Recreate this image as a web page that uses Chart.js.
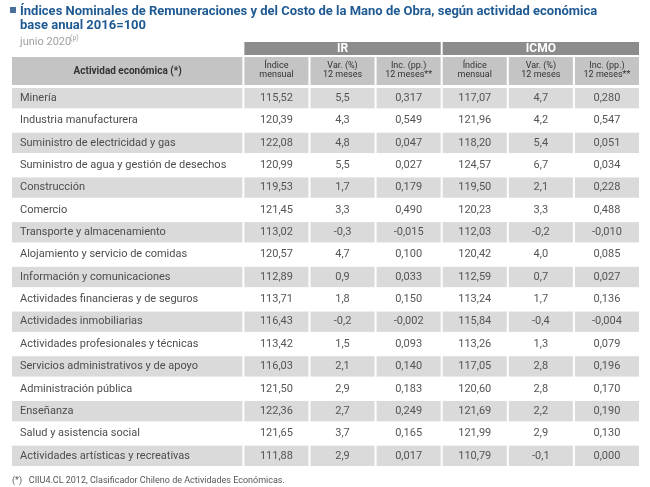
<!DOCTYPE html>
<html>
<head>
<meta charset="utf-8">
<script src="https://cdn.jsdelivr.net/npm/chart.js@4/dist/chart.umd.min.js"></script>
<style>
  body { margin: 0; background: #fff; }
  #wrap { position: relative; width: 650px; height: 487px; }
</style>
</head>
<body>
<div id="wrap"><canvas id="tableChart" width="650" height="487"></canvas></div>
<script>
const activities = [
  "Minería", "Industria manufacturera", "Suministro de electricidad y gas",
  "Suministro de agua y gestión de desechos", "Construcción", "Comercio",
  "Transporte y almacenamiento", "Alojamiento y servicio de comidas",
  "Información y comunicaciones", "Actividades financieras y de seguros",
  "Actividades inmobiliarias", "Actividades profesionales y técnicas",
  "Servicios administrativos y de apoyo", "Administración pública", "Enseñanza",
  "Salud y asistencia social", "Actividades artísticas y recreativas"
];
const irIndice = ["115,52","120,39","122,08","120,99","119,53","121,45","113,02","120,57","112,89","113,71","116,43","113,42","116,03","121,50","122,36","121,65","111,88"];
const irVar = ["5,5","4,3","4,8","5,5","1,7","3,3","-0,3","4,7","0,9","1,8","-0,2","1,5","2,1","2,9","2,7","3,7","2,9"];
const irInc = ["0,317","0,549","0,047","0,027","0,179","0,490","-0,015","0,100","0,033","0,150","-0,002","0,093","0,140","0,183","0,249","0,165","0,017"];
const icmoIndice = ["117,07","121,96","118,20","124,57","119,50","120,23","112,03","120,42","112,59","113,24","115,84","113,26","117,05","120,60","121,69","121,99","110,79"];
const icmoVar = ["4,7","4,2","5,4","6,7","2,1","3,3","-0,2","4,0","0,7","1,7","-0,4","1,3","2,8","2,8","2,2","2,9","-0,1"];
const icmoInc = ["0,280","0,547","0,051","0,034","0,228","0,488","-0,010","0,085","0,027","0,136","-0,004","0,079","0,196","0,170","0,190","0,130","0,000"];
const columnHeads = [["Índice","mensual"],["Var. (%)","12 meses"],["Inc. (pp.)","12 meses**"],["Índice","mensual"],["Var. (%)","12 meses"],["Inc. (pp.)","12 meses**"]];
const groupHeads = ["IR", "ICMO"];

const valueCols = [irIndice, irVar, irInc, icmoIndice, icmoVar, icmoInc];
const FIRST = 3.5; // width of the activity column in x units
const FONT = "'Liberation Sans Narrow', 'Roboto', sans-serif";

const points = [];
valueCols.forEach(function (col, c) {
  col.forEach(function (v, r) { points.push({ x: FIRST + c + 0.5, y: activities[r], t: v }); });
});

const tablePlugin = {
  id: "tablePlugin",
  beforeDatasetsDraw: function (chart) {
    const ctx = chart.ctx, x = chart.scales.x, y = chart.scales.y, a = chart.chartArea;
    const rowH = (a.bottom - a.top) / activities.length;
    const xl = x.getPixelForValue(0), xf = x.getPixelForValue(FIRST);
    ctx.save();
    // title
    ctx.fillStyle = "#4a6f9a";
    ctx.fillRect(10, 7, 6, 6);
    ctx.fillStyle = "#1f5a93";
    ctx.font = "bold 13px " + FONT;
    ctx.textBaseline = "middle";
    ctx.fillText("Índices Nominales de Remuneraciones y del Costo de la Mano de Obra, según actividad económica", 20, 12);
    ctx.fillText("base anual 2016=100", 20, 26);
    ctx.fillStyle = "#a0a0a0";
    ctx.font = "11px " + FONT;
    ctx.fillText("junio 2020", 20, 42);
    ctx.font = "7px " + FONT;
    ctx.fillText("(p)", 70, 38);
    // group headers
    ctx.font = "bold 12px " + FONT;
    ctx.textAlign = "center";
    groupHeads.forEach(function (g, i) {
      const x0 = x.getPixelForValue(FIRST + i * 3), x1 = x.getPixelForValue(FIRST + i * 3 + 3);
      ctx.fillStyle = "#8c8c8c";
      ctx.fillRect(x0 + 1, 42, x1 - x0 - 2, 13);
      ctx.fillStyle = "#fff";
      ctx.fillText(g, (x0 + x1) / 2, 49);
    });
    // column headers
    ctx.fillStyle = "#c4c4c4";
    ctx.fillRect(xl, 57, xf - xl - 1, 28);
    ctx.fillStyle = "#333";
    ctx.font = "bold 10px " + FONT;
    ctx.fillText("Actividad económica (*)", (xl + xf) / 2, 71);
    ctx.font = "9px " + FONT;
    columnHeads.forEach(function (h, c) {
      const x0 = x.getPixelForValue(FIRST + c), x1 = x.getPixelForValue(FIRST + c + 1);
      ctx.fillStyle = "#c4c4c4";
      ctx.fillRect(x0 + 1, 57, x1 - x0 - 2, 28);
      ctx.fillStyle = "#333";
      ctx.fillText(h[0], (x0 + x1) / 2, 66);
      ctx.fillText(h[1], (x0 + x1) / 2, 75);
    });
    // rows
    activities.forEach(function (act, r) {
      const cy = y.getPixelForValue(r);
      if (r % 2 === 0) {
        ctx.fillStyle = "#dadada";
        ctx.fillRect(xl, cy - rowH / 2 + 1, xf - xl - 1, rowH - 2);
        for (let c = 0; c < 6; c++) {
          const x0 = x.getPixelForValue(FIRST + c), x1 = x.getPixelForValue(FIRST + c + 1);
          ctx.fillRect(x0 + 1, cy - rowH / 2 + 1, x1 - x0 - 2, rowH - 2);
        }
      }
      ctx.fillStyle = "#4d4d4d";
      ctx.font = "11px " + FONT;
      ctx.textAlign = "left";
      ctx.fillText(act, xl + 8, cy);
    });
    // footnote
    ctx.fillStyle = "#555";
    ctx.font = "9px " + FONT;
    ctx.textAlign = "left";
    ctx.fillText("(*)   CIIU4.CL 2012, Clasificador Chileno de Actividades Económicas.", 12, a.bottom + 14);
    ctx.restore();
  },
  afterDatasetsDraw: function (chart) {
    const ctx = chart.ctx, x = chart.scales.x, y = chart.scales.y;
    ctx.save();
    ctx.fillStyle = "#555";
    ctx.font = "11px " + FONT;
    ctx.textAlign = "center";
    ctx.textBaseline = "middle";
    points.forEach(function (p) {
      ctx.fillText(p.t, x.getPixelForValue(p.x), y.getPixelForValue(activities.indexOf(p.y)));
    });
    ctx.restore();
  }
};

new Chart(document.getElementById("tableChart"), {
  type: "scatter",
  data: {
    labels: activities,
    datasets: [{ data: points, pointRadius: 0, showLine: false }]
  },
  options: {
    responsive: false,
    animation: false,
    layout: { padding: { left: 12, right: 10, top: 87, bottom: 20 } },
    scales: {
      x: { type: "linear", min: 0, max: FIRST + 6, display: false },
      y: { type: "category", labels: activities, offset: true, display: false }
    },
    plugins: { legend: { display: false }, tooltip: { enabled: false } }
  },
  plugins: [tablePlugin]
});
</script>
</body>
</html>
